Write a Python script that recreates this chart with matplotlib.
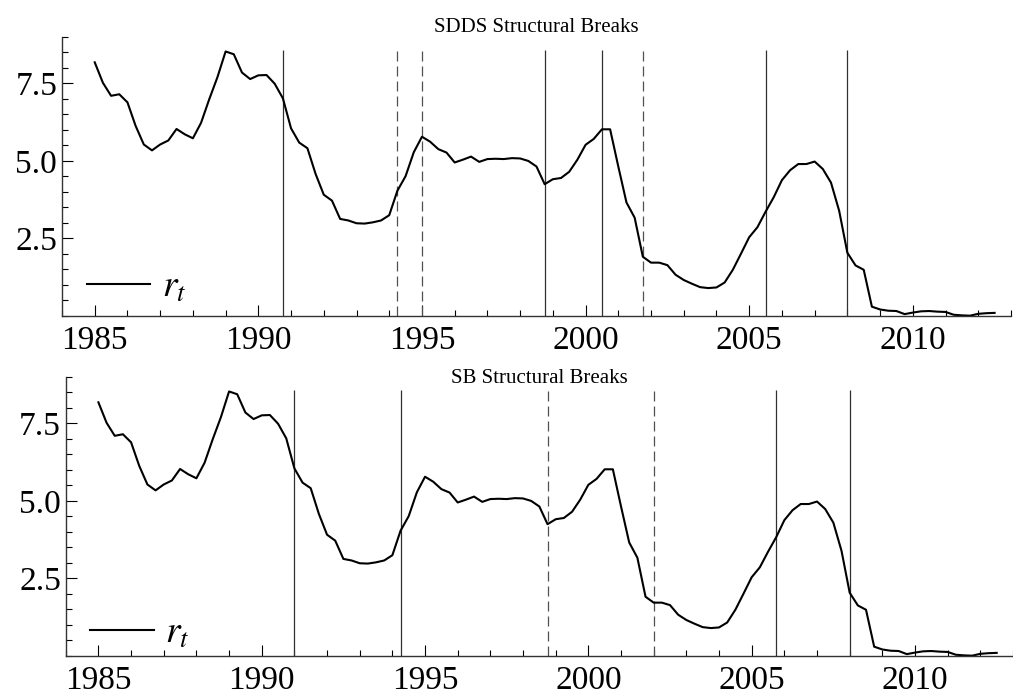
import numpy as np
import matplotlib
matplotlib.use("Agg")
import matplotlib.pyplot as plt
from matplotlib.ticker import MultipleLocator

# quarterly short rate r_t, 1985Q1 .. 2012Q3
start_year = 1985.0
rate = [
    8.18, 7.52, 7.10, 7.15,
    6.89, 6.13, 5.53, 5.34,
    5.53, 5.66, 6.03, 5.86,
    5.73, 6.23, 6.99, 7.70,
    8.53, 8.44, 7.85, 7.64,
    7.76, 7.77, 7.49, 7.02,
    6.05, 5.59, 5.41, 4.58,
    3.91, 3.72, 3.13, 3.08,
    2.99, 2.98, 3.02, 3.08,
    3.25, 4.04, 4.51, 5.28,
    5.78, 5.62, 5.38, 5.27,
    4.95, 5.04, 5.14, 4.97,
    5.06, 5.07, 5.06, 5.09,
    5.08, 5.00, 4.82, 4.25,
    4.41, 4.45, 4.65, 5.04,
    5.52, 5.71, 6.02, 6.02,
    4.82, 3.66, 3.17, 1.91,
    1.72, 1.72, 1.64, 1.33,
    1.16, 1.04, 0.93, 0.90,
    0.92, 1.08, 1.49, 2.01,
    2.54, 2.86, 3.36, 3.83,
    4.38, 4.70, 4.90, 4.90,
    4.98, 4.74, 4.30, 3.39,
    2.04, 1.63, 1.49, 0.30,
    0.21, 0.17, 0.16, 0.06,
    0.11, 0.15, 0.16, 0.14,
    0.13, 0.04, 0.02, 0.01,
    0.07, 0.09, 0.10,
]

# break dates (solid = break, dashed = other break type)
sdds_solid = [1990.75, 1998.75, 2000.5, 2005.5, 2008.0]
sdds_dashed = [1994.25, 1995.0, 2001.75]
sb_solid = [1991.0, 1994.25, 2005.75, 2008.0]
sb_dashed = [1998.75, 2002.0]

titles = ["SDDS Structural Breaks", "SB Structural Breaks"]
year_ticks = [1985, 1990, 1995, 2000, 2005, 2010]
rate_ticks = [2.5, 5.0, 7.5]

plt.rcParams['font.family'] = ['Liberation Serif', 'DejaVu Serif']
plt.rcParams['mathtext.fontset'] = 'stix'

t = start_year + 0.25 * np.arange(len(rate))

fig = plt.figure(figsize=(10.13, 6.96), dpi=100)
ax_top = fig.add_axes([0.0612, 0.546, 0.9368, 0.401])
ax_bot = fig.add_axes([0.0649, 0.0575, 0.9351, 0.401])

# axes, title, solid breaks, dashed breaks, title y, legend y
panels = [(ax_top, titles[0], sdds_solid, sdds_dashed, 1.018, 0.038),
          (ax_bot, titles[1], sb_solid, sb_dashed, 0.978, 0.018)]

for ax, title, solid, dashed, ty, ly in panels:
    vtop = max(rate) + 0.05
    ax.vlines(solid, 0, vtop, colors='#303030', linewidth=0.9)
    ax.vlines(dashed, 0, vtop, colors='#505050', linewidth=0.9,
              linestyles=(0, (8, 4)))
    ax.plot(t, rate, color='black', linewidth=1.5, label=r'$r_t$')

    ax.set_xlim(1984, 2013)
    ax.set_ylim(0, 9)
    ax.set_xticks(year_ticks)
    ax.set_yticks(rate_ticks)
    ax.set_yticklabels(["%.1f" % v for v in rate_ticks])
    ax.xaxis.set_minor_locator(MultipleLocator(1))
    ax.yaxis.set_minor_locator(MultipleLocator(0.5))
    ax.tick_params(which='major', direction='in', length=8, width=0.8,
                   labelsize=24)
    ax.tick_params(axis='x', which='major', pad=7)
    ax.tick_params(which='minor', direction='in', length=4, width=0.8)
    for s in ['top', 'right']:
        ax.spines[s].set_visible(False)
    for s in ['left', 'bottom']:
        ax.spines[s].set_linewidth(1.0)
        ax.spines[s].set_color('#333333')

    ax.set_title(title, fontsize=15, y=ty, pad=0)
    ax.legend(loc='lower left', frameon=False, fontsize=27,
              handlelength=1.7, handletextpad=0.3, borderpad=0,
              borderaxespad=0, bbox_to_anchor=(0.026, ly))

plt.savefig("out.png", dpi=100)
